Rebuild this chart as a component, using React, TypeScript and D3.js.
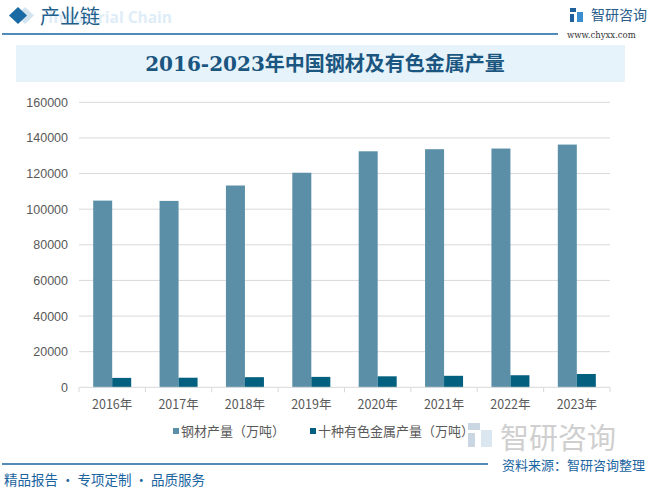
import { useEffect, useRef } from "react";
import * as d3 from "d3";

const width = 649;
const height = 489;
const margin = { top: 102, right: 39, bottom: 102, left: 79 };

const years = ["2016年", "2017年", "2018年", "2019年", "2020年", "2021年", "2022年", "2023年"];
const steel = [104813, 104642, 113287, 120457, 132489, 133667, 134034, 136268];
const nonferrous = [5283, 5378, 5688, 5842, 6168, 6454, 6774, 7470];
const seriesNames = ["钢材产量（万吨）", "十种有色金属产量（万吨）"];
const yTicks = [0, 20000, 40000, 60000, 80000, 100000, 120000, 140000, 160000];

const colors = ["#5b8fa8", "#03607f"];
const cjk = "'Noto Sans CJK SC', 'Noto Sans', sans-serif";

const App = () => {
  const svgRef = useRef<SVGSVGElement>(null);

  useEffect(() => {
    const svg = d3.select(svgRef.current);
    svg.selectAll("*").remove();

    const plotBottom = 387.3;
    const plotTop = 102.3;
    const x = d3
      .scaleBand<string>()
      .domain(years)
      .range([margin.left, width - margin.right]);
    const y = d3.scaleLinear().domain([0, 160000]).range([plotBottom, plotTop]);
    const barW = 19;

    // header
    svg.append("rect").attr("width", width).attr("height", height).attr("fill", "#fff");
    svg
      .append("path")
      .attr("d", "M18,7 L27,15.5 L18,24 L9,15.5 Z")
      .attr("fill", "#d4e4ef")
      .attr("transform", "translate(7,0)");
    svg.append("path").attr("d", "M18,7 L27,15.5 L18,24 L9,15.5 Z").attr("fill", "#1a6aa3");
    svg
      .append("text")
      .attr("x", 48)
      .attr("y", 23)
      .attr("font-family", "'Open Sans', sans-serif")
      .attr("font-weight", "bold")
      .attr("font-size", 15.5)
      .attr("fill", "#deedf7")
      .text("Industrial Chain");
    svg
      .append("text")
      .attr("x", 40)
      .attr("y", 24)
      .attr("font-family", cjk)
      .attr("font-size", 20)
      .attr("fill", "#1f5f8b")
      .text("产业链");
    svg
      .append("line")
      .attr("x1", 2)
      .attr("x2", 558)
      .attr("y1", 34)
      .attr("y2", 34)
      .attr("stroke", "#1a64a0")
      .attr("stroke-width", 1.5);
    // logo top right
    const logo = svg.append("g").attr("transform", "translate(570,8)");
    logo.append("rect").attr("x", 0).attr("y", 0).attr("width", 6).attr("height", 4).attr("fill", "#1f5f9b");
    logo.append("rect").attr("x", 0).attr("y", 6).attr("width", 4).attr("height", 8).attr("fill", "#1f5f9b");
    logo.append("rect").attr("x", 7).attr("y", 4).attr("width", 6).attr("height", 10).attr("fill", "#3c8dd0");
    svg
      .append("text")
      .attr("x", 591)
      .attr("y", 20)
      .attr("font-family", cjk)
      .attr("font-size", 14)
      .attr("fill", "#2a5d8a")
      .text("智研咨询");
    svg
      .append("text")
      .attr("x", 567)
      .attr("y", 38)
      .attr("font-family", "'DejaVu Serif', serif")
      .attr("font-size", 8.5)
      .attr("fill", "#333")
      .text("www.chyxx.com");

    // title band
    svg.append("rect").attr("x", 16).attr("y", 45).attr("width", 609).attr("height", 37).attr("fill", "#e6f3fb");
    svg
      .append("text")
      .attr("x", 325)
      .attr("y", 71)
      .attr("text-anchor", "middle")
      .attr("font-family", "'DejaVu Serif', 'Noto Sans CJK SC', serif")
      .attr("font-weight", 600)
      .attr("font-size", 20)
      .attr("fill", "#1b5680")
      .text("2016-2023年中国钢材及有色金属产量");

    // grid
    svg
      .append("g")
      .selectAll("line")
      .data(yTicks.slice(1))
      .join("line")
      .attr("x1", margin.left)
      .attr("x2", width - margin.right)
      .attr("y1", (d) => y(d))
      .attr("y2", (d) => y(d))
      .attr("stroke", "#d9d9d9")
      .attr("stroke-width", 1);

    svg
      .append("g")
      .selectAll("text")
      .data(yTicks)
      .join("text")
      .attr("x", 68)
      .attr("y", (d) => y(d) + 4.5)
      .attr("text-anchor", "end")
      .attr("font-family", "'Liberation Sans', Arial, sans-serif")
      .attr("font-size", 12.5)
      .attr("fill", "#595959")
      .text((d) => String(d));

    // bars
    const bars = svg.append("g");
    bars
      .selectAll("rect.s")
      .data(steel)
      .join("rect")
      .attr("class", "s")
      .attr("x", (_, i) => x(years[i])! + x.bandwidth() / 2 - barW)
      .attr("y", (d) => y(d))
      .attr("width", barW)
      .attr("height", (d) => plotBottom - y(d))
      .attr("fill", colors[0]);
    bars
      .selectAll("rect.n")
      .data(nonferrous)
      .join("rect")
      .attr("class", "n")
      .attr("x", (_, i) => x(years[i])! + x.bandwidth() / 2)
      .attr("y", (d) => y(d))
      .attr("width", barW)
      .attr("height", (d) => plotBottom - y(d))
      .attr("fill", colors[1]);

    // x axis
    const ax = svg.append("g");
    ax.append("line")
      .attr("x1", margin.left)
      .attr("x2", width - margin.right)
      .attr("y1", plotBottom)
      .attr("y2", plotBottom)
      .attr("stroke", "#d9d9d9");
    ax.selectAll("line.t")
      .data([...years.map((d) => x(d)!), width - margin.right])
      .join("line")
      .attr("class", "t")
      .attr("x1", (d) => d)
      .attr("x2", (d) => d)
      .attr("y1", plotBottom)
      .attr("y2", plotBottom + 5)
      .attr("stroke", "#d9d9d9");
    ax.selectAll("text")
      .data(years)
      .join("text")
      .attr("x", (d) => x(d)! + x.bandwidth() / 2)
      .attr("y", 409)
      .attr("text-anchor", "middle")
      .attr("font-family", cjk)
      .attr("font-size", 12.5)
      .attr("fill", "#595959")
      .text((d) => d);

    // legend
    const lx = [173, 310];
    seriesNames.forEach((name, i) => {
      svg.append("rect").attr("x", lx[i]).attr("y", 428).attr("width", 6).attr("height", 6).attr("fill", colors[i]);
      svg
        .append("text")
        .attr("x", lx[i] + 8)
        .attr("y", 436)
        .attr("font-family", cjk)
        .attr("font-size", 13)
        .attr("fill", "#595959")
        .text(name);
    });

    // bottom watermark logo
    const wl = svg.append("g").attr("transform", "translate(468,423)").attr("opacity", 0.35);
    wl.append("rect").attr("x", 0).attr("y", 0).attr("width", 12).attr("height", 7).attr("fill", "#6a8fb0");
    wl.append("rect").attr("x", 0).attr("y", 10).attr("width", 7).attr("height", 14).attr("fill", "#6a8fb0");
    wl.append("rect").attr("x", 13).attr("y", 7).attr("width", 11).attr("height", 17).attr("fill", "#9bbbd6");
    svg
      .append("text")
      .attr("x", 500)
      .attr("y", 449)
      .attr("font-family", cjk)
      .attr("font-size", 29)
      .attr("fill", "#cfcfcf")
      .text("智研咨询");

    // footer
    svg
      .append("line")
      .attr("x1", 2)
      .attr("x2", 488)
      .attr("y1", 464)
      .attr("y2", 464)
      .attr("stroke", "#1a64a0")
      .attr("stroke-width", 1.5);
    svg
      .append("text")
      .attr("x", 645)
      .attr("y", 470)
      .attr("text-anchor", "end")
      .attr("font-family", cjk)
      .attr("font-size", 13)
      .attr("fill", "#1a64a0")
      .text("资料来源：智研咨询整理");
    svg
      .append("text")
      .attr("x", 4)
      .attr("y", 485)
      .attr("font-family", cjk)
      .attr("font-size", 13.5)
      .attr("fill", "#1a64a0")
      .text("精品报告 · 专项定制 · 品质服务");
  }, []);

  return (
    <svg
      ref={svgRef}
      width={width}
      height={height}
      viewBox={`0 0 ${width} ${height}`}
      style={{ position: "absolute", left: 0, top: 0 }}
    ></svg>
  );
};

export default App;
